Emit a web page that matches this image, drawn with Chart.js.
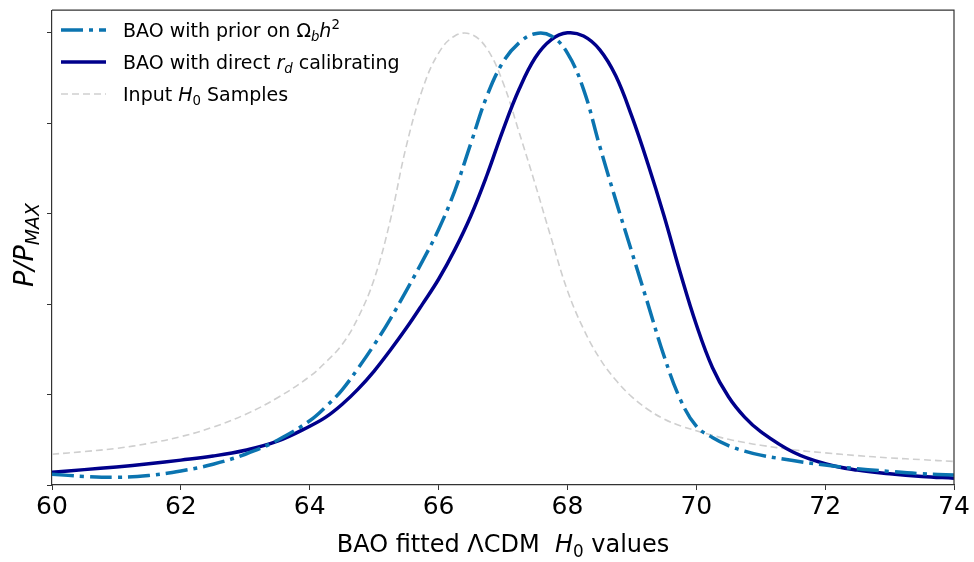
<!DOCTYPE html>
<html>
<head>
<meta charset="utf-8">
<script src="https://cdn.jsdelivr.net/npm/chart.js@4.4.1/dist/chart.umd.min.js"></script>
<style>
  html, body { margin: 0; padding: 0; background: #fff; }
  #wrap { width: 974px; height: 562px; position: relative; }
</style>
</head>
<body>
<div id="wrap"><canvas id="chart"></canvas></div>
<script>
// H0 grid (km/s/Mpc)
var h0 = [60, 60.5, 61, 61.5, 62, 62.5, 63, 63.5, 64,
          64.25, 64.5, 64.75, 65, 65.25, 65.5, 65.75, 66, 66.25, 66.5, 66.75,
          67, 67.25, 67.5, 67.75, 68, 68.25, 68.5, 68.75, 69, 69.25, 69.5, 69.75,
          70, 70.25, 70.5, 70.75, 71, 71.5, 72, 72.5, 73, 73.5, 74];

// BAO with prior on Omega_b h^2 (dash-dot)
var priorOmb = [0.024, 0.019, 0.017, 0.021, 0.031, 0.046, 0.068, 0.099, 0.142,
                0.173, 0.21, 0.258, 0.31, 0.367, 0.43, 0.495, 0.565, 0.65, 0.755, 0.86,
                0.935, 0.978, 0.998, 0.993, 0.955, 0.875, 0.75, 0.63, 0.515, 0.40, 0.285, 0.19,
                0.13, 0.105, 0.087, 0.075, 0.066, 0.054, 0.044, 0.036, 0.030, 0.025, 0.022];

// BAO with direct r_d calibrating (solid)
var directRd = [0.028, 0.034, 0.040, 0.047, 0.055, 0.064, 0.077, 0.097, 0.13,
                0.15, 0.178, 0.212, 0.252, 0.298, 0.347, 0.40, 0.455, 0.52, 0.595, 0.685,
                0.785, 0.875, 0.945, 0.985, 1.0, 0.993, 0.963, 0.905, 0.815, 0.71, 0.595, 0.47,
                0.355, 0.26, 0.195, 0.15, 0.118, 0.073, 0.047, 0.033, 0.025, 0.019, 0.015];

// Input H0 samples (grey dashed)
var inputH0 = [0.068, 0.074, 0.081, 0.092, 0.107, 0.128, 0.156, 0.193, 0.24,
               0.272, 0.31, 0.37, 0.455, 0.585, 0.75, 0.875, 0.955, 0.993, 0.997, 0.965,
               0.89, 0.78, 0.665, 0.545, 0.43, 0.345, 0.28, 0.232, 0.195, 0.167, 0.146, 0.131,
               0.12, 0.11, 0.101, 0.094, 0.088, 0.078, 0.071, 0.065, 0.060, 0.056, 0.052];

var xTicks = [60, 62, 64, 66, 68, 70, 72, 74];
var yTicks = [0, 0.2, 0.4, 0.6, 0.8, 1.0];

var FONT = "'DejaVu Sans', sans-serif";
var C_PRIOR = '#0b74b0';
var C_DIRECT = '#00008b';
var C_INPUT = '#cfcfcf';

function pts(ys) {
    return h0.map(function(x, i) { return { x: x, y: ys[i] }; });
}

// draw text made of parts: {t, it, sub, sup}
function richWidth(ctx, parts, size) {
    var w = 0;
    parts.forEach(function(p) {
        var s = (p.sub || p.sup) ? size * 0.7 : size;
        ctx.font = (p.it ? 'italic ' : '') + s + 'px ' + FONT;
        w += ctx.measureText(p.t).width;
    });
    return w;
}
function drawRich(ctx, parts, x, y, size) {
    ctx.textBaseline = 'alphabetic';
    ctx.textAlign = 'left';
    parts.forEach(function(p) {
        var s = (p.sub || p.sup) ? size * 0.7 : size;
        var dy = p.sub ? size * 0.22 : (p.sup ? -size * 0.42 : 0);
        ctx.font = (p.it ? 'italic ' : '') + s + 'px ' + FONT;
        ctx.fillText(p.t, x, y + dy);
        x += ctx.measureText(p.t).width;
    });
}

var legendItems = [
    { color: C_PRIOR, width: 3.5, dash: [22, 6, 4, 6],
      parts: [{ t: 'BAO with prior on ' }, { t: 'Ω' }, { t: 'b', it: true, sub: true }, { t: 'h', it: true }, { t: '2', sup: true }] },
    { color: C_DIRECT, width: 3.5, dash: [],
      parts: [{ t: 'BAO with direct ' }, { t: 'r', it: true }, { t: 'd', it: true, sub: true }, { t: ' calibrating' }] },
    { color: C_INPUT, width: 1.6, dash: [7, 4],
      parts: [{ t: 'Input ' }, { t: 'H', it: true }, { t: '0', sub: true }, { t: ' Samples' }] }
];

var decorations = {
    id: 'decorations',
    afterDraw: function(chart) {
        var ctx = chart.ctx;
        var a = chart.chartArea;
        ctx.save();
        // frame top and right
        ctx.strokeStyle = '#333';
        ctx.lineWidth = 1.2;
        ctx.beginPath();
        ctx.moveTo(a.left, a.top);
        ctx.lineTo(a.right, a.top);
        ctx.lineTo(a.right, a.bottom);
        ctx.stroke();

        // legend
        legendItems.forEach(function(it, i) {
            var yy = 30 + i * 32;
            ctx.strokeStyle = it.color;
            ctx.lineWidth = it.width;
            ctx.setLineDash(it.dash);
            ctx.lineCap = 'butt';
            ctx.beginPath();
            ctx.moveTo(61, yy);
            ctx.lineTo(106, yy);
            ctx.stroke();
            ctx.setLineDash([]);
            ctx.fillStyle = '#000';
            drawRich(ctx, it.parts, 123, yy + 7, 19);
        });

        // x title
        var xt = [{ t: 'BAO fitted ΛCDM  ' }, { t: 'H', it: true }, { t: '0', sub: true }, { t: ' values' }];
        var w = richWidth(ctx, xt, 24);
        ctx.fillStyle = '#000';
        drawRich(ctx, xt, (a.left + a.right) / 2 - w / 2, 552, 24);

        // y title
        var yt = [{ t: 'P/P', it: true }, { t: 'MAX', it: true, sub: true }];
        var wy = richWidth(ctx, yt, 27);
        ctx.translate(33, 245);
        ctx.rotate(-Math.PI / 2);
        drawRich(ctx, yt, -wy / 2, 0, 27);
        ctx.restore();
    }
};

new Chart(document.getElementById('chart').getContext('2d'), {
    type: 'line',
    data: {
        datasets: [{
            label: 'BAO with prior on Ωbh2',
            data: pts(priorOmb),
            borderColor: C_PRIOR,
            borderWidth: 3.5,
            borderDash: [22, 6, 4, 6],
            borderCapStyle: 'butt',
            pointRadius: 0,
            tension: 0.4,
            fill: false
        }, {
            label: 'BAO with direct rd calibrating',
            data: pts(directRd),
            borderColor: C_DIRECT,
            borderWidth: 3.5,
            pointRadius: 0,
            tension: 0.4,
            fill: false
        }, {
            label: 'Input H0 Samples',
            data: pts(inputH0),
            borderColor: C_INPUT,
            borderWidth: 1.6,
            borderDash: [7, 4],
            pointRadius: 0,
            tension: 0.4,
            fill: false
        }]
    },
    options: {
        responsive: true,
        maintainAspectRatio: false,
        animation: false,
        layout: { padding: { top: 4, right: 20, left: 0, bottom: 0 } },
        plugins: {
            legend: { display: false },
            tooltip: { enabled: false }
        },
        scales: {
            x: {
                type: 'linear',
                min: 60,
                max: 74,
                afterFit: function(s) { s.height = 77; },
                afterBuildTicks: function(s) {
                    s.ticks = xTicks.map(function(v) { return { value: v }; });
                },
                grid: { drawOnChartArea: false, drawTicks: true, tickLength: 5, tickColor: '#333' },
                border: { display: true, color: '#333', width: 1.2 },
                ticks: {
                    color: '#000',
                    padding: 2,
                    maxRotation: 0,
                    font: { family: FONT, size: 25 }
                }
            },
            y: {
                min: 0,
                max: 1.05,
                afterFit: function(s) { s.width = 52; },
                afterBuildTicks: function(s) {
                    s.ticks = yTicks.map(function(v) { return { value: v }; });
                },
                grid: { drawOnChartArea: false, drawTicks: true, tickLength: 5, tickColor: '#333' },
                border: { display: true, color: '#333', width: 1.2 },
                ticks: {
                    callback: function() { return ''; }
                }
            }
        }
    },
    plugins: [decorations]
});
</script>
</body>
</html>
